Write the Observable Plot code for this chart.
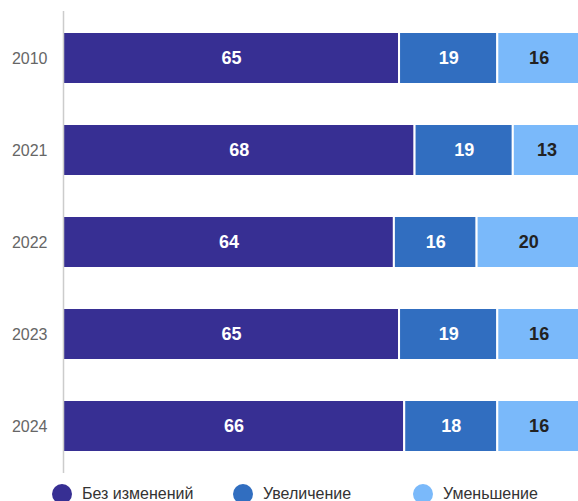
<!DOCTYPE html>
<html>
<head>
<meta charset="utf-8">
<script src="https://cdn.jsdelivr.net/npm/d3@7"></script>
<script src="https://cdn.jsdelivr.net/npm/@observablehq/plot@0.6"></script>
<style>
  html, body { margin: 0; padding: 0; background: #fff; }
  body { width: 578px; height: 501px; position: relative; overflow: hidden; font-family: "Liberation Sans", Arial, sans-serif; }
  #chart { position: absolute; left: 0; top: 0; }
  .leg { position: absolute; top: 484px; display: flex; align-items: center; font-size: 16px; color: #333; white-space: nowrap; line-height: 20px; }
  .leg .dot { width: 20px; height: 20px; border-radius: 50%; margin-right: 10px; flex: none; }
</style>
</head>
<body>
<div id="chart"></div>
<div id="legend"></div>
<script>
const years = ["2010", "2021", "2022", "2023", "2024"];
const seriesNames = ["Без изменений", "Увеличение", "Уменьшение"];
const seriesColors = ["#372f93", "#316ec0", "#7ab9fa"];
const noChange = [65, 68, 64, 65, 66];
const increase = [19, 19, 16, 19, 18];
const decrease = [16, 13, 20, 16, 16];

const values = [noChange, increase, decrease];
const data = [];
years.forEach((y, i) => {
  seriesNames.forEach((s, j) => {
    data.push({year: y, series: s, value: values[j][i]});
  });
});

const stackOpts = {x: "value", y: "year", z: "series", order: null};
const isLight = d => d.series === seriesNames[2];

const chart = Plot.plot({
  width: 578,
  height: 478,
  marginLeft: 63,
  marginRight: -2,
  marginTop: 11,
  marginBottom: 5,
  style: {fontFamily: "'Liberation Sans', Arial, sans-serif", background: "#fff", overflow: "visible"},
  x: {domain: [0, 100], axis: null},
  y: {domain: years, paddingInner: 0.43, paddingOuter: 0.21, label: null, axis: null},
  color: {domain: seriesNames, range: seriesColors},
  marks: [
    Plot.barX(data, Plot.stackX({...stackOpts, fill: "series", stroke: "#fff", strokeWidth: 2})),
    Plot.textX(data, Plot.stackX({...stackOpts, text: d => isLight(d) ? "" : String(d.value), fill: "#fff", fontWeight: "bold", fontSize: 18})),
    Plot.textX(data, Plot.stackX({...stackOpts, text: d => isLight(d) ? String(d.value) : "", fill: "#222", fontWeight: "bold", fontSize: 18})),
    Plot.axisY({tickSize: 0, tickPadding: 16, fontSize: 16, color: "#666", label: null}),
    Plot.ruleX([0], {stroke: "#ccc", strokeWidth: 1.5})
  ]
});
document.getElementById("chart").appendChild(chart);

const legendLefts = [52, 233, 413];
const legend = document.getElementById("legend");
seriesNames.forEach((s, i) => {
  const item = document.createElement("div");
  item.className = "leg";
  item.style.left = legendLefts[i] + "px";
  item.innerHTML = `<span class="dot" style="background:${seriesColors[i]}"></span><span>${s}</span>`;
  legend.appendChild(item);
});
</script>
</body>
</html>
